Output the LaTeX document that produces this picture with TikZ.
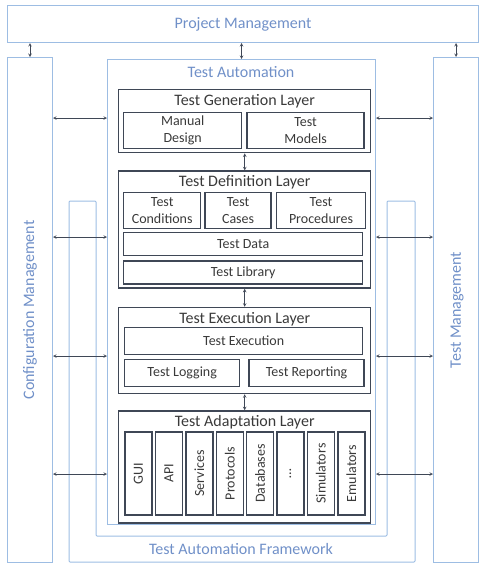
\documentclass[tikz,border=0pt]{standalone}
\usepackage{fontspec}
\setmainfont{Carlito}
\usetikzlibrary{positioning}

\begin{document}
\begin{tikzpicture}[x=1pt,y=-1pt]
       \definecolor{lightblue}{HTML}{9DBDE3}
       \definecolor{bluetext}{HTML}{7090C8}
       \definecolor{darkgray}{HTML}{3F4756}
       \definecolor{textgray}{HTML}{3A3A3A}
       \newcommand{\labelfont}[0]{\fontsize{16}{18}\selectfont}
       \newcommand{\boxfont}[0]{\fontsize{14}{17}\selectfont}
       \tikzstyle{areabox}    = [rectangle, draw = lightblue, line width=1pt, text = bluetext, font=\labelfont, inner sep=0pt]
       \tikzstyle{arealabel}  = [text = bluetext, font=\labelfont, inner sep=0pt]
       \tikzstyle{layerbox}   = [rectangle, draw = darkgray, line width=1.4pt, minimum width=252pt, inner sep=0pt]
       \tikzstyle{layertitle} = [text = textgray, font=\labelfont, inner sep=0pt]
       \tikzstyle{partbox}    = [rectangle, draw = darkgray, line width=1.4pt, text = textgray, font=\boxfont, align=center, inner sep=0pt]
       \tikzstyle{connector}  = [line width=0.6pt, draw = darkgray, <->, >=stealth]

       \useasboundingbox (0,0) rectangle (490,568);

       % outer areas
       \node [areabox, minimum width=471pt, minimum height=37pt, anchor=north west] (pm) at (7,5) {Project Management};
       \node [areabox, minimum width=45pt, minimum height=505pt, anchor=north west] (cm) at (7,57) {};
       \node [arealabel, rotate=90] (cmlabel) at (30,310) {Configuration Management};
       \node [areabox, minimum width=45pt, minimum height=505pt, anchor=north west] (tm) at (433,57) {};
       \node [arealabel, rotate=90] (tmlabel) at (457,310) {Test Management};

       % framework
       \draw [lightblue, line width=1pt, rounded corners=1pt] (69,201) -- (69,562) -- (415,562) -- (415,201) -- (387,201)
             -- (387,536) -- (96,536) -- (96,201) -- cycle;
       \node [arealabel] (taflabel) at (241,549) {Test Automation Framework};

       \node [areabox, minimum width=268pt, minimum height=465pt, anchor=north west] (ta) at (107,59) {};
       \node [arealabel] (talabel) at (241,72) {Test Automation};

       % layers
       \node [layerbox, minimum height=63pt, anchor=north west] (gen) at (118,89) {};
       \node [layerbox, minimum height=117pt, below = 17pt of gen]  (def)   {};
       \node [layerbox, minimum height=86pt,  below = 18pt of def]  (exec)  {};
       \node [layerbox, minimum height=112pt, below = 16pt of exec] (adapt) {};
       \node [layertitle, below = 5pt of gen.north]   (gentitle)   {Test Generation Layer};
       \node [layertitle, below = 5pt of def.north]   (deftitle)   {Test Definition Layer};
       \node [layertitle, below = 5pt of exec.north]  (exectitle)  {Test Execution Layer};
       \node [layertitle, below = 5pt of adapt.north] (adapttitle) {Test Adaptation Layer};

       \node [partbox, minimum width=118pt, minimum height=36pt, anchor=north west] (manual) at (123,112) {Manual\\Design};
       \node [partbox, minimum width=117pt, minimum height=36pt, right = 4pt of manual] (models) {Test\\Models};

       \node [partbox, minimum width=77pt, minimum height=36pt, anchor=north west] (conditions) at (123,192) {Test\\Conditions};
       \node [partbox, minimum width=66pt, minimum height=36pt, right = 3pt of conditions] (cases) {Test\\Cases};
       \node [partbox, minimum width=89pt, minimum height=36pt, right = 4pt of cases] (procedures) {Test\\Procedures};
       \node [partbox, minimum width=239pt, minimum height=23pt, anchor=north west] (data) at (123,232) {Test Data};
       \node [partbox, minimum width=239pt, minimum height=23pt, below = 4pt of data] (library) {Test Library};

       \node [partbox, minimum width=238pt, minimum height=27pt, anchor=north west] (execution) at (124,327) {Test Execution};
       \node [partbox, minimum width=115pt, minimum height=27pt, anchor=north west] (logging) at (124,359) {Test Logging};
       \node [partbox, minimum width=115pt, minimum height=27pt, right = 8pt of logging] (reporting) {Test Reporting};

       \foreach \name [count=\i from 0] in {GUI,API,Services,Protocols,Databases,\dots,Simulators,Emulators}
         \node [partbox, rotate=90, minimum width=83pt, minimum height=27pt] (port\i) at (138.5+30.4*\i,473.5) {\name};

       % connectors
       \draw [connector] (cm.north |- pm.south) -- (cm.north);
       \draw [connector] (ta.north |- pm.south) -- (ta.north);
       \draw [connector] (tm.north |- pm.south) -- (tm.north);
       \draw [connector] (gen.south)  -- (def.north);
       \draw [connector] (def.south)  -- (exec.north);
       \draw [connector] (exec.south) -- (adapt.north);
       \foreach \y [count=\i] in {118,237,356,474} {
         \coordinate (row\i) at (0,\y);
         \draw [connector] (cm.east |- row\i) -- (ta.west |- row\i);
         \draw [connector] (ta.east |- row\i) -- (tm.west |- row\i);
       }
\end{tikzpicture}
\end{document}
